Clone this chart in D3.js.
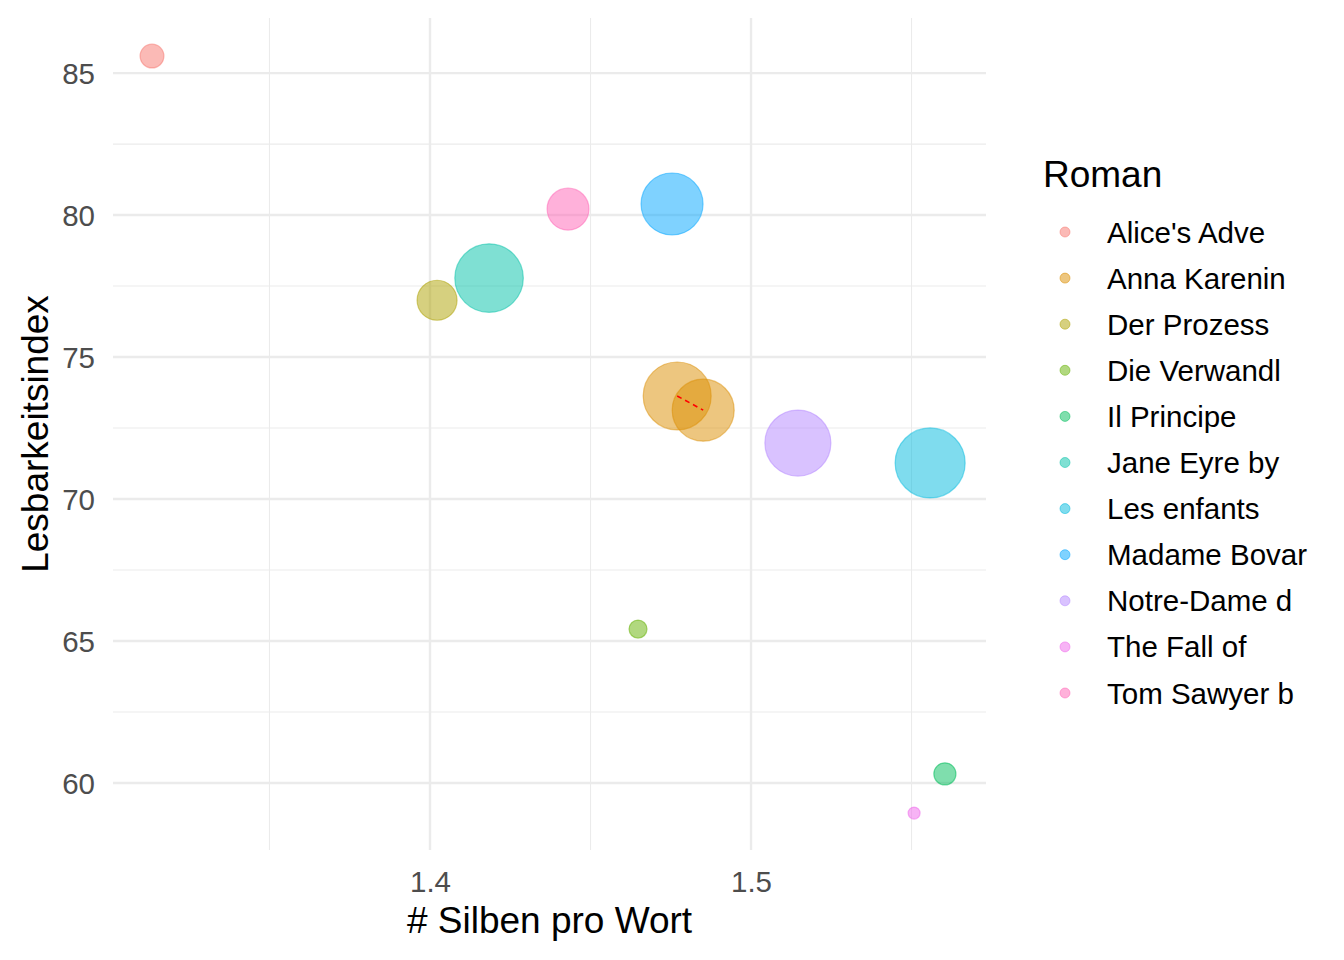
<!DOCTYPE html>
<html>
<head>
<meta charset="utf-8">
<script src="https://cdn.jsdelivr.net/npm/d3@7"></script>
<style>
  body { margin: 0; background: #fff; }
  text { font-family: "Liberation Sans", Arial, sans-serif; }
</style>
</head>
<body>
<svg id="chart" width="1344" height="960"></svg>
<script>
const width = 1344;
const height = 960;
const margin = { top: 18, right: 358, bottom: 110, left: 113 };

// one row per text
const romane = [
  "Alice's Adve", "Anna Karenin", "Anna Karenin", "Der Prozess", "Die Verwandl",
  "Il Principe", "Jane Eyre by", "Les enfants", "Madame Bovar", "Notre-Dame d",
  "The Fall of", "Tom Sawyer b"
];
const silben = [1.3134, 1.4770, 1.4851, 1.4022, 1.4648, 1.5604, 1.4184, 1.5558, 1.4754, 1.5146, 1.5508, 1.4430];
const lesbarkeit = [85.6, 73.63, 73.13, 77.0, 65.42, 60.32, 77.78, 71.27, 80.39, 71.97, 58.94, 80.21];
const woerter = [22, 179, 149, 62, 12.6, 19, 182, 190, 149, 169, 5.6, 68];

const kategorien = [
  "Alice's Adve", "Anna Karenin", "Der Prozess", "Die Verwandl", "Il Principe",
  "Jane Eyre by", "Les enfants", "Madame Bovar", "Notre-Dame d", "The Fall of",
  "Tom Sawyer b"
];
const farben = [
  "#F8766D", "#DB8E00", "#AEA200", "#64B200", "#00BD5C", "#00C1A7",
  "#00BADE", "#00A6FF", "#B385FF", "#EF67EB", "#FF63B6"
];
const xTicks = [1.4, 1.5];
const xMinor = [1.35, 1.45, 1.55];
const yTicks = [60, 65, 70, 75, 80, 85];
const yMinor = [62.5, 67.5, 72.5, 77.5, 82.5];

const data = romane.map((r, i) => ({
  roman: r, x: silben[i], y: lesbarkeit[i], n: woerter[i]
}));

const svg = d3.select("#chart");
const x0 = margin.left, x1 = width - margin.right;
const y0 = height - margin.bottom, y1 = margin.top;

const xScale = d3.scaleLinear().domain([1.30125, 1.5732]).range([x0, x1]);
const yScale = d3.scaleLinear().domain([57.64, 86.94]).range([y0, y1]);
const rScale = d3.scaleSqrt().domain([0, 190]).range([0, 35]);
const color = d3.scaleOrdinal().domain(kategorien).range(farben);

const grid = svg.append("g");
grid.selectAll(".xminor").data(xMinor).join("line")
  .attr("x1", d => xScale(d)).attr("x2", d => xScale(d))
  .attr("y1", y0).attr("y2", y1)
  .attr("stroke", "#EBEBEB").attr("stroke-width", 1.1);
grid.selectAll(".yminor").data(yMinor).join("line")
  .attr("y1", d => yScale(d)).attr("y2", d => yScale(d))
  .attr("x1", x0).attr("x2", x1)
  .attr("stroke", "#EBEBEB").attr("stroke-width", 1.1);
grid.selectAll(".xmajor").data(xTicks).join("line")
  .attr("x1", d => xScale(d)).attr("x2", d => xScale(d))
  .attr("y1", y0).attr("y2", y1)
  .attr("stroke", "#EBEBEB").attr("stroke-width", 2.4);
grid.selectAll(".ymajor").data(yTicks).join("line")
  .attr("y1", d => yScale(d)).attr("y2", d => yScale(d))
  .attr("x1", x0).attr("x2", x1)
  .attr("stroke", "#EBEBEB").attr("stroke-width", 2.4);

// axis labels via d3 axes, without lines
const xAxis = d3.axisBottom(xScale).tickValues(xTicks).tickSize(0).tickPadding(0).tickFormat(d3.format(".1f"));
svg.append("g")
  .attr("transform", `translate(0,${y0 + 21})`)
  .call(xAxis)
  .call(g => g.select(".domain").remove())
  .selectAll("text")
  .attr("dy", "0.71em")
  .attr("font-size", 29.5)
  .attr("fill", "#4D4D4D")
  .style("font-family", "'Liberation Sans', Arial, sans-serif");

const yAxis = d3.axisLeft(yScale).tickValues(yTicks).tickSize(0).tickPadding(0);
svg.append("g")
  .attr("transform", `translate(${x0 - 18},0)`)
  .call(yAxis)
  .call(g => g.select(".domain").remove())
  .selectAll("text")
  .attr("dy", "0.36em")
  .attr("font-size", 29.5)
  .attr("fill", "#4D4D4D")
  .style("font-family", "'Liberation Sans', Arial, sans-serif");

svg.append("text")
  .attr("x", (x0 + x1) / 2).attr("y", 933)
  .attr("text-anchor", "middle")
  .attr("font-size", 37)
  .text("# Silben pro Wort");

svg.append("text")
  .attr("transform", `translate(48,${(y0 + y1) / 2}) rotate(-90)`)
  .attr("text-anchor", "middle")
  .attr("font-size", 37)
  .text("Lesbarkeitsindex");

// points
svg.append("g").selectAll("circle").data(data).join("circle")
  .attr("cx", d => xScale(d.x))
  .attr("cy", d => yScale(d.y))
  .attr("r", d => rScale(d.n))
  .attr("fill", d => color(d.roman))
  .attr("fill-opacity", 0.5)
  .attr("stroke", d => color(d.roman))
  .attr("stroke-opacity", 0.5)
  .attr("stroke-width", 1.2);

// dashed line between the two Anna Karenina points
const anna = data.filter(d => d.roman === "Anna Karenin");
svg.append("path")
  .datum(anna)
  .attr("d", d3.line().x(d => xScale(d.x)).y(d => yScale(d.y)))
  .attr("fill", "none")
  .attr("stroke", "#FF0000")
  .attr("stroke-width", 1.6)
  .attr("stroke-dasharray", "5 4");

// legend
const legend = svg.append("g").attr("transform", "translate(1043,0)");
legend.append("text")
  .attr("x", 0).attr("y", 187)
  .attr("font-size", 37)
  .text("Roman");
const rows = legend.selectAll(".row").data(kategorien).join("g")
  .attr("transform", (d, i) => `translate(0,${232 + i * 46.1})`);
rows.append("circle")
  .attr("cx", 22).attr("cy", 0).attr("r", 5)
  .attr("fill", d => color(d)).attr("fill-opacity", 0.5)
  .attr("stroke", d => color(d)).attr("stroke-opacity", 0.5)
  .attr("stroke-width", 1);
rows.append("text")
  .attr("x", 64).attr("y", 10.5)
  .attr("font-size", 29.5)
  .text(d => d);
</script>
</body>
</html>
